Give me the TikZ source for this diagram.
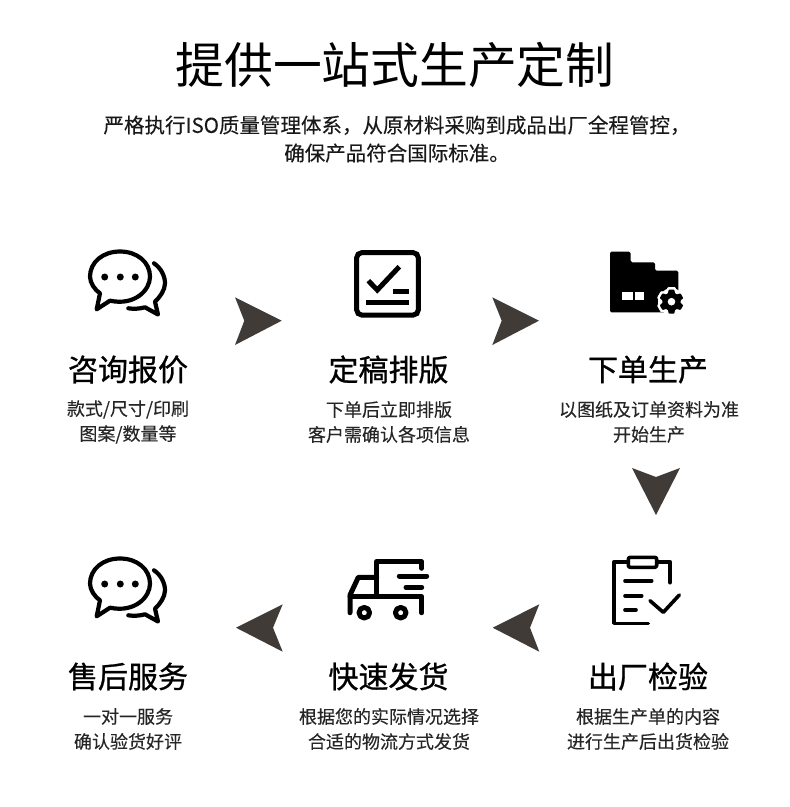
\documentclass[tikz,border=0pt]{standalone}
\usepackage{fontspec}
\setmainfont{Noto Sans CJK SC}
\newfontfamily\headfont[FakeBold=0.9]{Noto Sans CJK SC}
\newfontfamily\bodyfont[FakeBold=0.2]{Noto Sans CJK SC}
\begin{document}
\begin{tikzpicture}[x=1pt,y=-1pt,
  titletext/.style={font=\fontsize{48.8}{52}\selectfont,text=black,inner sep=0pt},
  leadtext/.style={font=\bodyfont\fontsize{20.5}{28}\selectfont,text=black!90,inner sep=0pt,align=center},
  headtext/.style={font=\headfont\fontsize{30}{34}\selectfont,text=black,inner sep=0pt},
  subtext/.style={font=\bodyfont\fontsize{18}{25}\selectfont,text=black!85,inner sep=0pt,align=center},
  pointer/.style={fill=arrowgrey,draw=none},
  iconline/.style={draw=black,line width=4.2pt,line cap=round,line join=round},
  truckline/.style={draw=black,line width=5pt,line cap=round,line join=round},
  thinicon/.style={draw=black,line width=3.6pt,line cap=round,line join=round},
  squareline/.style={draw=black,line width=5pt,line cap=butt,line join=miter}]
\definecolor{arrowgrey}{HTML}{403B37}
\useasboundingbox (0,0) rectangle (790,807);
\fill[white] (0,0) rectangle (790,807);
% texts
\node[titletext] (title) at (395,65) {提供一站式生产定制};
\node[leadtext] (lead) at (397,139) {严格执行ISO质量管理体系，从原材料采购到成品出厂全程管控，\\确保产品符合国际标准。};
\node[headtext] (h1) at (128,369.5) {咨询报价};
\node[subtext] (s1) at (128,422) {款式/尺寸/印刷\\图案/数量等};
\node[headtext] (h2) at (388.5,369.5) {定稿排版};
\node[subtext] (s2) at (389,422) {下单后立即排版\\客户需确认各项信息};
\node[headtext] (h3) at (648,369.5) {下单生产};
\node[subtext] (s3) at (649,422) {以图纸及订单资料为准\\开始生产};
\node[headtext] (h4) at (128,676.5) {售后服务};
\node[subtext] (s4) at (128,729) {一对一服务\\确认验货好评};
\node[headtext] (h5) at (388.5,676.5) {快速发货};
\node[subtext] (s5) at (389,729) {根据您的实际情况选择\\合适的物流方式发货};
\node[headtext] (h6) at (648,676.5) {出厂检验};
\node[subtext] (s6) at (648,729) {根据生产单的内容\\进行生产后出货检验};
% arrows
\fill[pointer] (235,297.3) -- (281.7,320.7) -- (235,345) -- (244.3,320.7) -- cycle;
\fill[pointer] (492.3,297.3) -- (539,320.7) -- (492.3,345) -- (501.7,320.7) -- cycle;
\fill[pointer] (632,468) -- (656,515) -- (680,468) -- (656,477) -- cycle;
\fill[pointer] (492.7,627.7) -- (539.3,604.3) -- (530,627.7) -- (539.3,651.7) -- cycle;
\fill[pointer] (236,627.7) -- (282.7,604.3) -- (273,627.7) -- (282.7,651.7) -- cycle;
% chat icons
\foreach \dy in {0,307}{
\begin{scope}[yshift=-\dy pt]
 \draw[iconline,miter limit=4] (110,300.7) .. controls (135,306) and (150,290) .. (150,276.7) .. controls (150,262) and (137,251.5) .. (120,251.5) .. controls (103,251.5) and (90,262) .. (90,276.7) .. controls (90,283) and (95,290) .. (100,293.3) -- (96.7,309.3) -- cycle;
 \draw[iconline] (154,263.3) .. controls (161,268) and (165,276) .. (165,283.3) .. controls (165,290) and (160,297) .. (155,301.7) -- (158,314.5) -- (145,307.3) .. controls (139,309) and (133,309) .. (128.3,308.3);
 \foreach \px in {104.7,120.3,135.3}{\fill (\px,277) circle (3.5);}
\end{scope}}
% checklist icon
\draw[squareline,rounded corners=5pt] (356.7,252.7) rectangle (418.3,315);
\draw[squareline] (368.3,280.7) -- (377.3,290) -- (399.3,266.7);
\draw[squareline] (393.3,291.7) -- (409.3,291.7);
\draw[squareline] (366,302.3) -- (409.3,302.3);
% factory icon
\fill[rounded corners=1.5pt] (610,251.7) -- (630.7,251.7) -- (630.7,262.3) -- (655,262.3) -- (655,270.7) -- (678.3,270.7) -- (678.3,312.3) -- (610,312.3) -- cycle;
\fill[white] (621.7,291.7) rectangle (632.7,300);
\fill[white] (635,291.7) rectangle (644,300);
\begin{scope}[shift={(671.5,301.7)}]
 \fill[white] (0,0) circle (13.5);
 \foreach \a in {0,60,...,300}{
  \fill[white,rotate=\a,rounded corners=1pt] (-5,-7) -- (-4.2,-14.5) -- (4.2,-14.5) -- (5,-7) -- cycle;
  }
 \fill[black] (0,0) circle (9.2);
 \foreach \a in {0,60,...,300}{
  \fill[black,rotate=\a,rounded corners=0.8pt] (-3.8,-7) -- (-2.8,-12) -- (2.8,-12) -- (3.8,-7) -- cycle;
  }
 \fill[white] (0,0) circle (3.8);
\end{scope}
% truck icon
\draw[truckline] (421.7,568.3) -- (421.7,561.7) -- (376.7,561.7) -- (376.7,595);
\draw[truckline] (399.3,576) -- (426.7,576);
\draw[truckline] (406,587.3) -- (421.7,587.3);
\draw[truckline] (376.7,577.3) -- (358.3,577.3) -- (350,595) -- (350,612.7);
\draw[truckline] (350,596.7) -- (421.7,596.7) -- (421.7,612.7);
\draw[truckline] (364.3,612.7) circle (5.3);
\draw[truckline] (400.7,612.7) circle (5.3);
% clipboard icon
\draw[thinicon] (670,582.7) -- (670,561.7) -- (658.3,561.7);
\draw[thinicon] (628.3,561.7) -- (614,561.7) -- (614,623.3) -- (648.3,623.3);
\draw[thinicon,rounded corners=2pt] (628.3,557.3) rectangle (656.7,567.3);
\draw[thinicon] (625,580.7) -- (651.7,580.7);
\draw[thinicon] (625,595.7) -- (641.7,595.7);
\draw[thinicon] (625,610) -- (636,610);
\draw[thinicon] (650,600.7) -- (663.3,612.3) -- (679.3,595);
\end{tikzpicture}
\end{document}
